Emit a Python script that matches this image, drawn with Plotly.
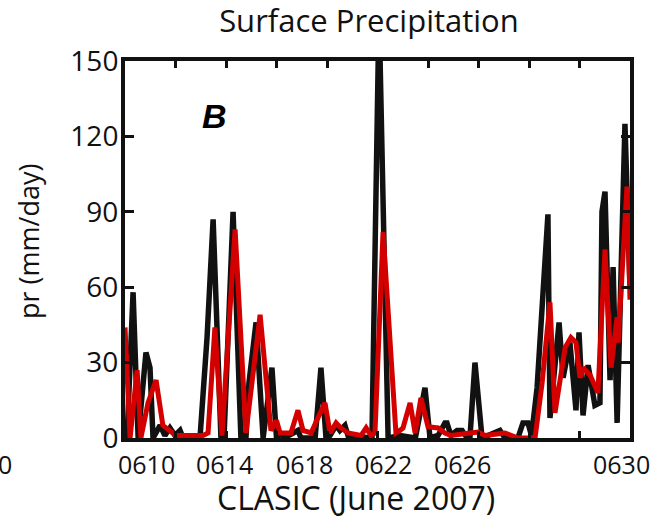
import plotly.graph_objects as go

# Observed (black) series: day of June 2007, precipitation (mm/day)
obs_day = [10.0, 10.08, 10.32, 10.52, 10.83, 10.99, 11.11, 11.39, 11.58, 11.78, 11.98, 12.18, 12.3,
           12.97, 13.25, 13.49, 13.80, 13.92, 14.28, 14.59, 14.79, 14.91, 15.19, 15.47, 15.82, 16.0,
           16.14, 16.3, 16.85, 16.97, 17.53, 17.76, 17.96, 18.12, 18.36, 18.51, 18.71, 18.83, 19.78,
           20.06, 20.42, 20.9, 21.5, 21.88, 22.08, 22.4, 22.67, 22.75, 22.91, 23.15, 23.35, 23.55,
           23.66, 23.86, 24.14, 24.85, 25.05, 25.56, 25.76, 25.96, 26.1, 26.32, 26.75, 26.83, 27.19,
           27.35, 27.62, 27.86, 27.98, 28.14, 28.34, 28.61, 28.81, 28.89, 29.01, 29.21, 29.33, 29.49,
           29.8, 30.0]
obs_pr = [3, 0, 58, 0, 34, 28, 0, 5, 1, 4, 1, 3, 0,
          0, 40, 87, 0, 0, 90, 0, 0, 22, 46, 0, 28, 0,
          2, 0, 3, 0, 0, 28, 0, 1, 5, 3, 5, 1, 0,
          170, 0, 1, 0, 20, 0, 1, 6, 6, 1, 3, 3, 0,
          0, 30, 0, 3, 0, 0, 6, 6, 1, 20, 89, 8, 46,
          24, 38, 11, 42, 9, 29, 13, 14, 90, 98, 23, 68, 6,
          125, 60]

# Model (red) series
mod_day = [10.0, 10.2, 10.48, 10.63, 10.91, 11.23, 11.5, 11.78, 12.02, 13.09, 13.29, 13.56, 13.84,
           14.36, 14.79, 15.35, 15.78, 16.0, 16.14, 16.57, 16.85, 17.05, 17.37, 17.64, 17.92, 18.12,
           18.36, 18.55, 18.83, 19.35, 19.55, 19.74, 19.9, 20.22, 20.42, 20.73, 20.89, 21.01, 21.29,
           21.49, 21.72, 22.0, 22.4, 22.67, 22.91, 23.98, 24.26, 25.05, 25.56, 26.24, 26.52, 26.83,
           27.03, 27.43, 27.66, 27.86, 28.02, 28.14, 28.42, 28.73, 29.01, 29.25, 29.49, 29.53, 29.88,
           30.0]
mod_pr = [44, 0, 27, 0, 14, 23, 5, 3, 1, 1, 2, 44, 1,
          83, 2, 49, 3, 7, 2, 2, 11, 3, 2, 8, 14, 2,
          6, 4, 2, 1, 4, 1, 2, 82, 50, 2, 3, 4, 14,
          2, 16, 4.5, 4, 2, 1, 2.4, 1, 2, 0, 0, 22, 54,
          10, 36, 40, 38, 24, 28, 25, 18, 75, 28, 48, 38, 100,
          55]

x_tick_days = [10, 12, 14, 16, 18, 20, 22, 24, 26, 28, 30]
y_ticks = [0, 30, 60, 90, 120, 150]

# Displayed (misaligned) bottom labels, with their paper positions
x_label_text = ["0", "0610", "0614", "0618", "0622", "0626", "0630"]
x_label_pos = [-0.238, 0.042, 0.198, 0.355, 0.511, 0.668, 0.984]

FONT = "Open Sans"
INK = "#111111"

fig = go.Figure()
fig.add_trace(go.Scatter(x=obs_day, y=obs_pr, mode="lines",
                         line=dict(color=INK, width=5.5), showlegend=False))
fig.add_trace(go.Scatter(x=mod_day, y=mod_pr, mode="lines",
                         line=dict(color="#d40000", width=5), showlegend=False))

annotations = []
for t, p in zip(x_label_text, x_label_pos):
    annotations.append(dict(text=t, x=p, y=-0.068, xref="paper", yref="paper",
                            showarrow=False, xanchor="center", yanchor="middle",
                            font=dict(family=FONT, size=25, color=INK)))
annotations.append(dict(text="CLASIC (June 2007)", x=0.457, y=-0.157, xref="paper", yref="paper",
                        showarrow=False, xanchor="center", yanchor="middle",
                        font=dict(family=FONT, size=32, color=INK)))
annotations.append(dict(text="pr (mm/day)", x=-0.19, y=0.52, xref="paper", yref="paper",
                        showarrow=False, xanchor="center", yanchor="middle", textangle=-90,
                        font=dict(family=FONT, size=27, color=INK)))
annotations.append(dict(text="<b><i>B</i></b>", x=0.178, y=0.853, xref="paper", yref="paper",
                        showarrow=False, xanchor="center", yanchor="middle",
                        font=dict(family="Liberation Sans", size=34, color="#000")))

fig.update_layout(
    width=666, height=518,
    margin=dict(l=125, r=36, t=61, b=80),
    paper_bgcolor="white", plot_bgcolor="white",
    title=dict(text="Surface Precipitation", x=0.554, xanchor="center", y=0.96, yanchor="middle",
               font=dict(family=FONT, size=31, color=INK)),
    font=dict(family=FONT, size=24, color=INK),
    annotations=annotations,
    xaxis=dict(range=[10, 30], tickvals=x_tick_days, showticklabels=False,
               ticks="inside", ticklen=7, tickwidth=3, tickcolor=INK,
               showline=True, linewidth=4, linecolor=INK, mirror="ticks",
               showgrid=False, zeroline=False),
    yaxis=dict(range=[0, 150], tickvals=y_ticks,
               ticks="inside", ticklen=9, tickwidth=3, tickcolor=INK,
               showline=True, linewidth=4, linecolor=INK, mirror="ticks",
               showgrid=False, zeroline=False, ticklabelstandoff=-3,
               tickfont=dict(family=FONT, size=28, color=INK)),
)

fig.write_html("out.html")
